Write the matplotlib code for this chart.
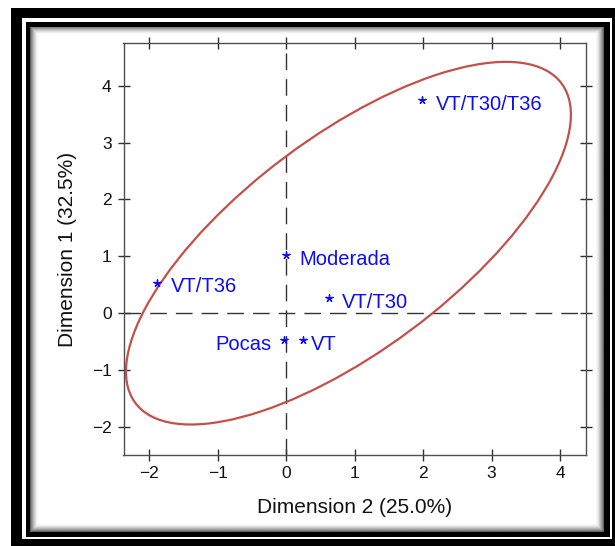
import numpy as np
import matplotlib
matplotlib.use("Agg")
import matplotlib.pyplot as plt
from matplotlib.patches import Ellipse, Rectangle

# ---------------- data ----------------
labels = ["VT/T30/T36", "Moderada", "VT/T36", "VT/T30", "Pocas", "VT"]
dim2 = [1.99, 0.0, -1.88, 0.62, -0.03, 0.24]   # x
dim1 = [3.75, 1.02, 0.53, 0.26, -0.48, -0.48]  # y

x_ticks = [-2, -1, 0, 1, 2, 3, 4]
y_ticks = [-2, -1, 0, 1, 2, 3, 4]
x_label = "Dimension 2 (25.0%)"
y_label = "Dimension 1 (32.5%)"

ellipse_center = (0.91, 1.23)
ellipse_semi_major = 4.21
ellipse_semi_minor = 1.74
ellipse_angle = 44.3

# ---------------- style ----------------
W, H = 615, 546
plt.rcParams['font.family'] = ['Liberation Sans', 'DejaVu Sans']
blue = "#0b0bff"
red = "#c4504b"
axis_col = "#505050"

# label placement (offset in points from the marker, horizontal alignment)
label_place = {
    "VT/T30/T36": (9.5, "left"),
    "Moderada": (9.5, "left"),
    "VT/T36": (9.5, "left"),
    "VT/T30": (9.5, "left"),
    "Pocas": (-9.0, "right"),
    "VT": (6.0, "left"),
}

fig = plt.figure(figsize=(W / 100, H / 100), dpi=100)
fig.patch.set_facecolor("white")


def fr(x0, y0, x1, y1):
    """pixel box (top-left origin) -> figure fraction rect"""
    return (x0 / W, 1 - y1 / H, (x1 - x0) / W, (y1 - y0) / H)


# ---------- decorative frame ----------
for (x0, y0, x1, y1), col in [((11, 8, 630, 560), "black"),
                              ((22, 18.3, 612, 539.3), "white"),
                              ((26, 22, 610, 537), "black")]:
    l, b, w, h = fr(x0, y0, x1, y1)
    fig.patches.append(Rectangle((l, b), w, h, transform=fig.transFigure,
                                 facecolor=col, edgecolor="none", zorder=0))

# inner shadow
ix0, iy0, ix1, iy1 = 30, 26.7, 603, 532
bg = fig.add_axes(fr(ix0, iy0, ix1, iy1), zorder=0.5)
nh, nw = int(iy1 - iy0), int(ix1 - ix0)
yy, xx = np.mgrid[0:nh, 0:nw]
d = np.minimum(np.minimum(xx, nw - 1 - xx), np.minimum(yy, nh - 1 - yy)).astype(float)
shade = 1 - 0.6 * np.clip(1 - d / 8.0, 0, 1) ** 1.6
bg.imshow(shade, cmap="gray", vmin=0, vmax=1, aspect="auto", interpolation="bilinear")
bg.set_axis_off()

# ---------- main axes ----------
ax = fig.add_axes(fr(123.5, 43.3, 585.7, 455), zorder=2)
ax.set_facecolor("white")
ax.set_xlim(-2.375, 4.375)
ax.set_ylim(-2.5, 4.75)

ax.set_xticks(x_ticks)
ax.set_yticks(y_ticks)
ax.set_xticklabels([str(t).replace("-", "\u2212") for t in x_ticks])
ax.set_yticklabels([str(t).replace("-", "\u2212") for t in y_ticks])
ax.tick_params(axis="both", which="major", direction="inout", length=9,
               width=1.0, color="#303030", labelsize=12.5, labelcolor="#111111",
               top=True, right=True)
ax.tick_params(axis="x", pad=3.5)
ax.tick_params(axis="y", pad=4)
for sp in ax.spines.values():
    sp.set_color(axis_col)
    sp.set_linewidth(1.0)

# reference lines
ax.axhline(0, color="#333333", lw=1.0, dashes=(12, 6.5), zorder=1)
ax.axvline(0, color="#333333", lw=1.0, dashes=(12, 6.5), zorder=1)

# confidence ellipse
ax.add_patch(Ellipse(ellipse_center, 2 * ellipse_semi_major, 2 * ellipse_semi_minor,
                     angle=ellipse_angle, fill=False, edgecolor=red, lw=1.6, zorder=2))

# points
ax.scatter(dim2, dim1, marker=(5, 2, 0), s=26, color=blue, linewidths=1.0, zorder=3)
for lab, x, y in zip(labels, dim2, dim1):
    dx, ha = label_place[lab]
    ax.annotate(lab, (x, y), xytext=(dx, -6.8), textcoords="offset points",
                ha=ha, va="baseline", color=blue, fontsize=14.5, zorder=4)

ax.set_xlabel(x_label, fontsize=15, color="#111111", labelpad=12)
ax.set_ylabel(y_label, fontsize=15, color="#111111", labelpad=11)

fig.savefig("out.png", dpi=100, facecolor="white")
